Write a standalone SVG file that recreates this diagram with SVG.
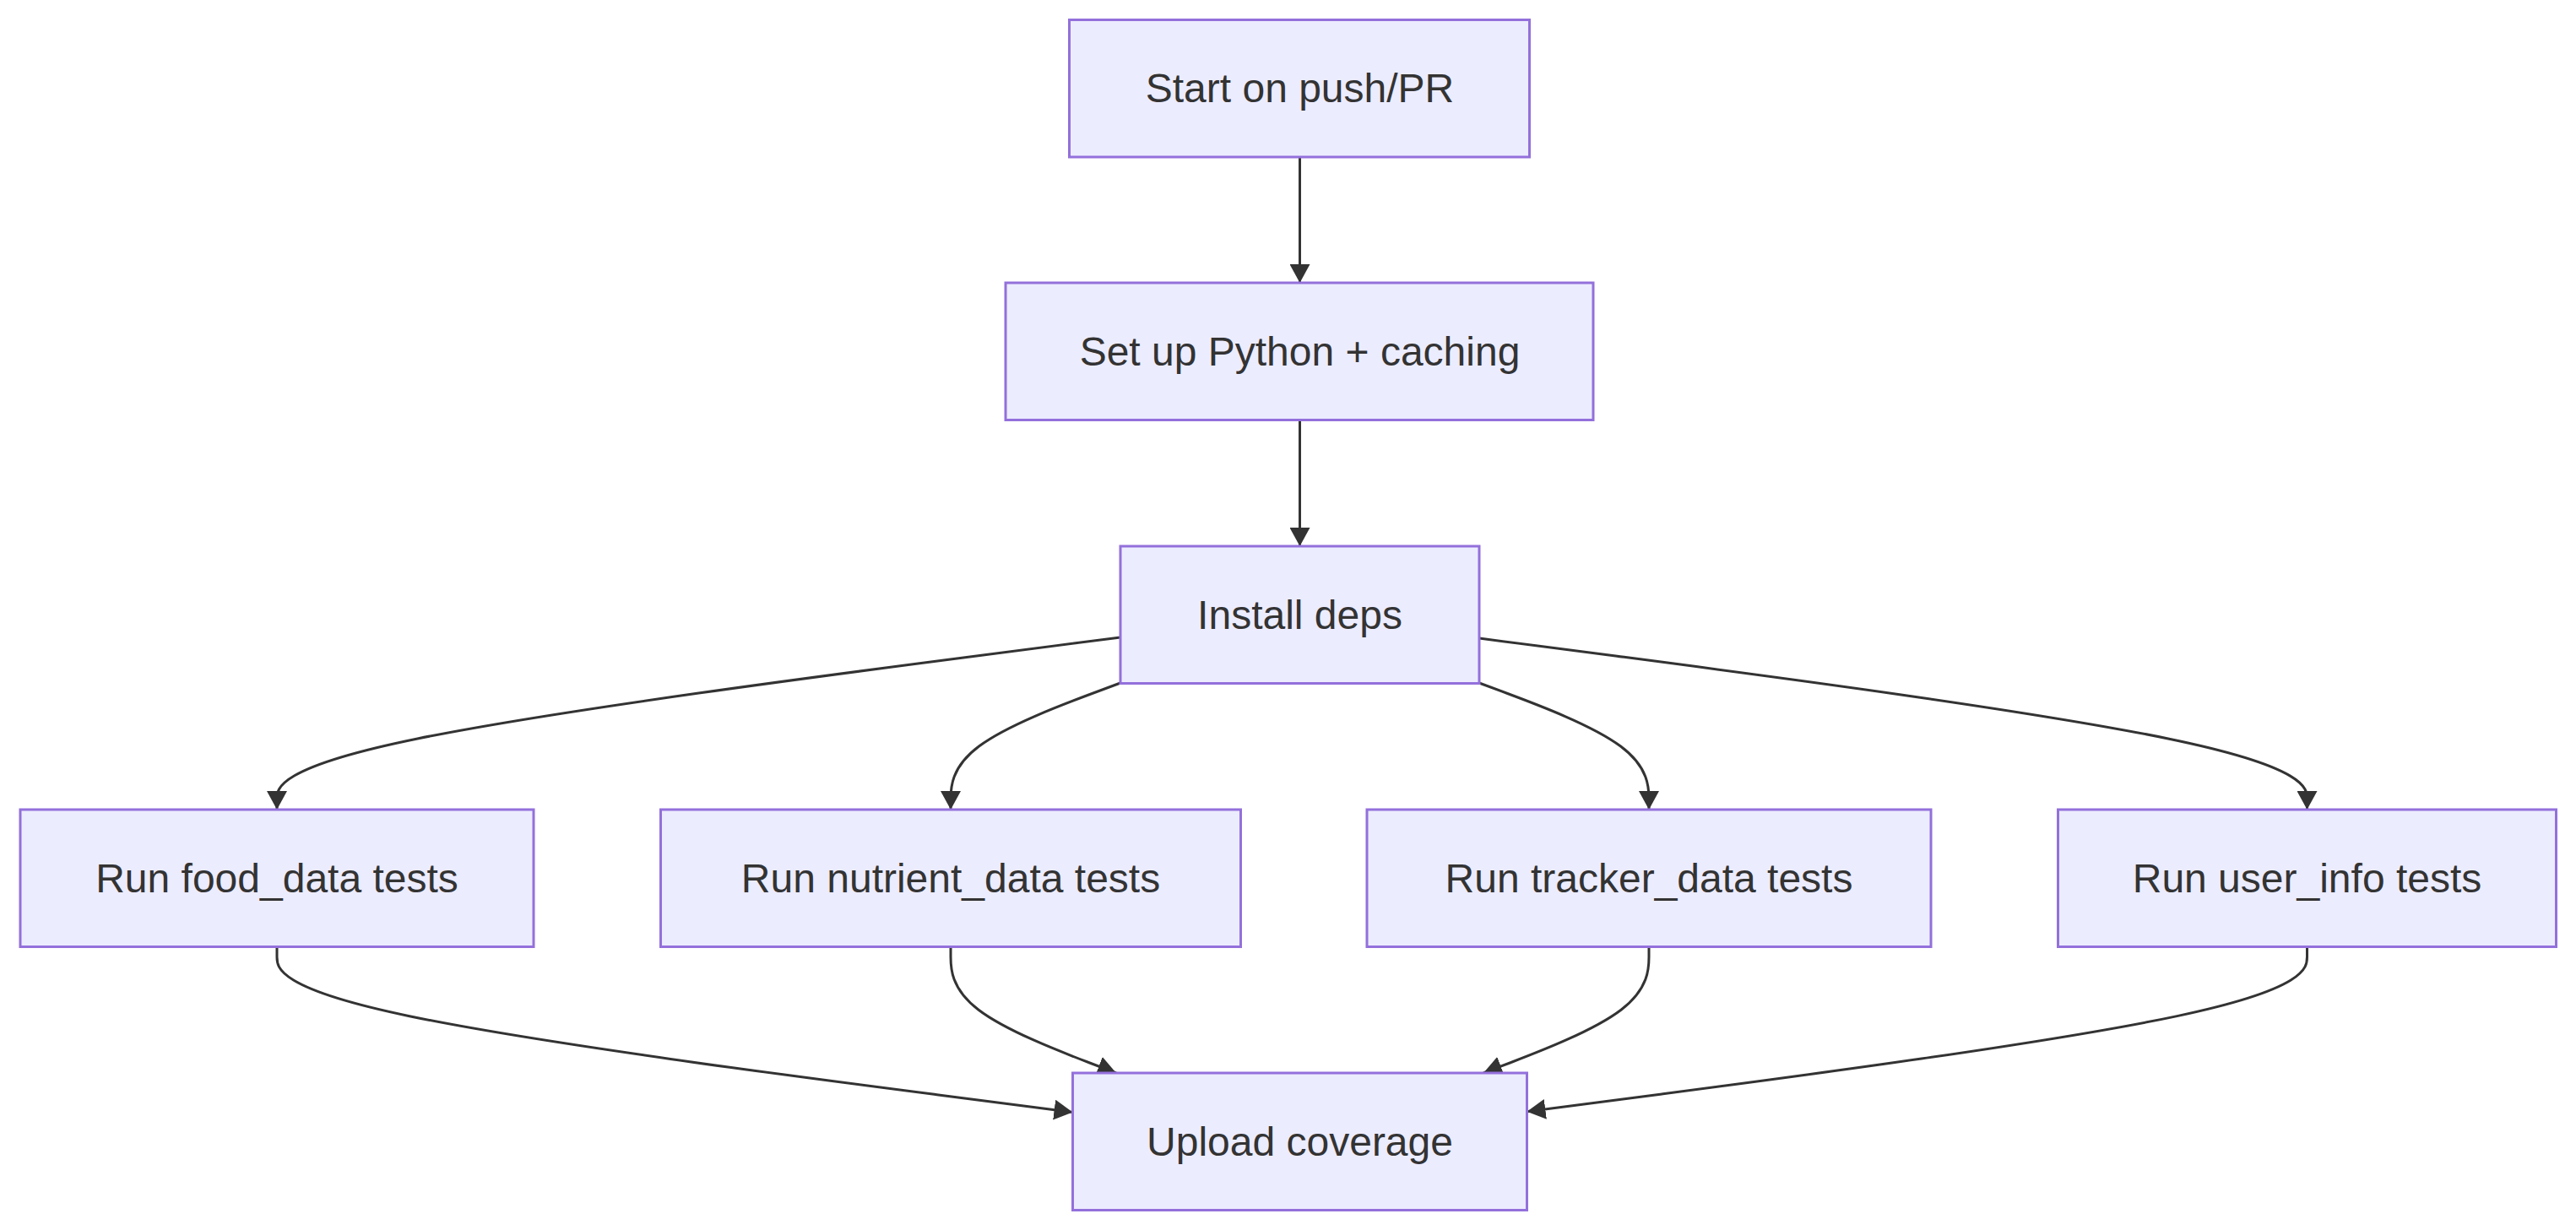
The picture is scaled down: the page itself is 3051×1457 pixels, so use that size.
<svg xmlns="http://www.w3.org/2000/svg" width="3051" height="1457" viewBox="0 0 3051 1457">
<style>
.node rect{fill:#ECECFF;stroke:#9370DB;stroke-width:3}
.node text{font-family:"Liberation Sans",Arial,sans-serif;font-size:48px;fill:#333333;text-anchor:middle}
.edge{fill:none;stroke:#333333;stroke-width:3}
</style>
<defs>
<marker id="arrow" viewBox="0 0 22 24" refX="22" refY="12" markerWidth="22" markerHeight="24" markerUnits="userSpaceOnUse" orient="auto">
<path d="M0,0 L22,12 L0,24 z" fill="#333333"/>
</marker>
</defs>
<rect width="3051" height="1457" fill="#ffffff"/>
<g id="connectors">
<path class="edge" marker-end="url(#arrow)" d="M1539.5,186 L1539.5,335"/>
<path class="edge" marker-end="url(#arrow)" d="M1539.5,497 L1539.5,647"/>
<path class="edge" marker-end="url(#arrow)" d="M1327,755 L1160.5,776.5 C994,798 661,841 494.5,875 C328,909 328,934 328,946.5 L328,959"/>
<path class="edge" marker-end="url(#arrow)" d="M1327,809 L1293.5,821.5 C1260,834 1193,859 1159.5,884 C1126,909 1126,934 1126,946.5 L1126,959"/>
<path class="edge" marker-end="url(#arrow)" d="M1752,809 L1785.5,821.5 C1819,834 1886,859 1919.5,884 C1953,909 1953,934 1953,946.5 L1953,959"/>
<path class="edge" marker-end="url(#arrow)" d="M1752,756 L1915.4,777.3 C2078.8,798.7 2405.7,841.3 2569.1,875.2 C2732.5,909 2732.5,934 2732.5,946.5 L2732.5,959"/>
<path class="edge" marker-end="url(#arrow)" d="M328,1121 L328,1133.5 C328,1146 328,1171 485.1,1203.7 C642.2,1236.5 956.3,1276.9 1113.4,1297.2 L1270.5,1317.4"/>
<path class="edge" marker-end="url(#arrow)" d="M1126,1121 L1126,1133.5 C1126,1146 1126,1171 1158.7,1196 C1191.3,1221 1256.7,1246 1289.3,1258.5 L1322,1271"/>
<path class="edge" marker-end="url(#arrow)" d="M1953,1121 L1953,1133.5 C1953,1146 1953,1171 1920.3,1196 C1887.7,1221 1822.3,1246 1789.7,1258.5 L1757,1271"/>
<path class="edge" marker-end="url(#arrow)" d="M2732.5,1121 L2732.5,1133.5 C2732.5,1146 2732.5,1171 2578.5,1203.6 C2424.5,1236.3 2116.5,1276.5 1962.5,1296.7 L1808.5,1316.8"/>
</g>
<g id="start" class="node"><rect x="1266.5" y="23.5" width="545" height="162.5"/><text x="1539.5" y="121">Start on push/PR</text></g>
<g id="setup" class="node"><rect x="1191" y="335" width="696" height="162.5"/><text x="1539.5" y="432.5">Set up Python + caching</text></g>
<g id="install" class="node"><rect x="1327" y="647" width="425" height="162.5"/><text x="1539.5" y="744.5">Install deps</text></g>
<g id="food" class="node"><rect x="24" y="959" width="608" height="162.5"/><text x="328" y="1056.5">Run food_data tests</text></g>
<g id="nutrient" class="node"><rect x="782.5" y="959" width="687" height="162.5"/><text x="1126" y="1056.5">Run nutrient_data tests</text></g>
<g id="tracker" class="node"><rect x="1619" y="959" width="668" height="162.5"/><text x="1953" y="1056.5">Run tracker_data tests</text></g>
<g id="userinfo" class="node"><rect x="2437.5" y="959" width="590" height="162.5"/><text x="2732.5" y="1056.5">Run user_info tests</text></g>
<g id="upload" class="node"><rect x="1270.5" y="1271" width="538" height="162.5"/><text x="1539.5" y="1368.5">Upload coverage</text></g>
</svg>
